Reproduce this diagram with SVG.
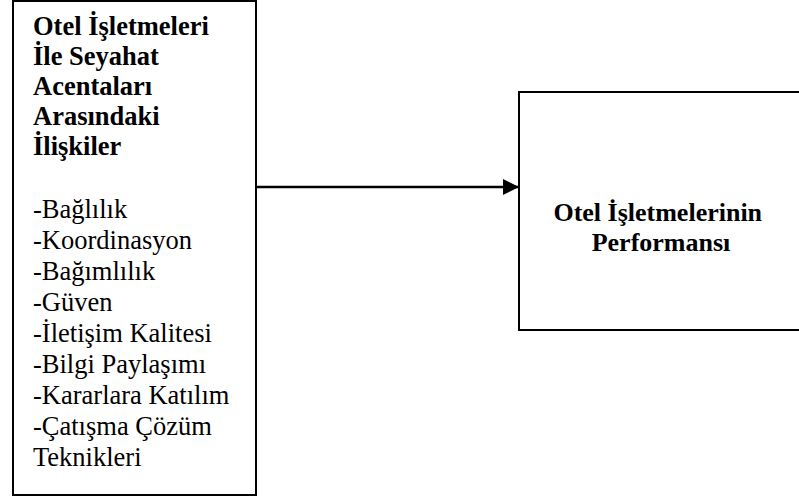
<svg xmlns="http://www.w3.org/2000/svg" width="799" height="502" viewBox="0 0 799 502">
<style>
.box{fill:#fff;stroke:#000;stroke-width:2}
.t{font-family:"Liberation Serif","Times New Roman",serif;font-size:26.5px;fill:#000}
.r{font-size:26px}
.b{font-weight:bold}
.c{stroke:#000;stroke-width:2.5;fill:none}
</style>
<defs>
<marker id="ah" markerWidth="16" markerHeight="16" viewBox="0 0 16 16" refX="16" refY="8" orient="auto" markerUnits="userSpaceOnUse">
<path d="M0,0 L16,8 L0,16 Z" fill="#000"/>
</marker>
</defs>
<rect width="799" height="502" fill="#fff"/>
<g id="node-left">
<rect class="box" x="13" y="1" width="243" height="494"/>
<text class="t b" x="33">
<tspan x="33" y="35">Otel İşletmeleri</tspan>
<tspan x="33" y="65">İle Seyahat</tspan>
<tspan x="33" y="95">Acentaları</tspan>
<tspan x="33" y="125">Arasındaki</tspan>
<tspan x="33" y="155">İlişkiler</tspan>
</text>
<text class="t" x="33">
<tspan x="33" y="218">-Bağlılık</tspan>
<tspan x="33" y="249">-Koordinasyon</tspan>
<tspan x="33" y="280">-Bağımlılık</tspan>
<tspan x="33" y="311">-Güven</tspan>
<tspan x="33" y="342">-İletişim Kalitesi</tspan>
<tspan x="33" y="373">-Bilgi Paylaşımı</tspan>
<tspan x="33" y="404">-Kararlara Katılım</tspan>
<tspan x="33" y="435">-Çatışma Çözüm</tspan>
<tspan x="33" y="466">Teknikleri</tspan>
</text>
</g>
<g id="node-right">
<rect class="box" x="519" y="92" width="300" height="238"/>
<text class="t r b" text-anchor="middle">
<tspan x="661" y="221">Otel İşletmelerinin</tspan>
<tspan x="661" y="251">Performansı</tspan>
</text>
</g>
<g id="connectors">
<line class="c" x1="256" y1="187" x2="519" y2="187" marker-end="url(#ah)"/>
</g>
</svg>
